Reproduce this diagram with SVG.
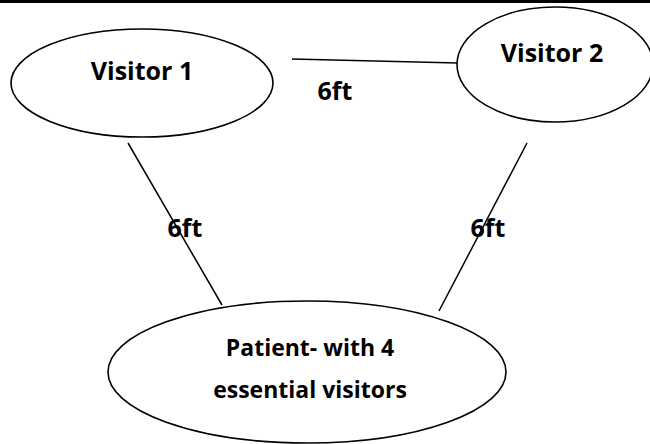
<svg xmlns="http://www.w3.org/2000/svg" width="650" height="444" viewBox="0 0 650 444">
  <style>
    .node { fill: #ffffff; stroke: #000000; stroke-width: 1.6; }
    .edge { stroke: #000000; stroke-width: 1.5; fill: none; }
    .label { font-family: "Open Sans", "Liberation Sans", sans-serif; font-weight: bold; fill: #000000; text-anchor: middle; }
  </style>
  <rect x="0" y="0" width="650" height="444" fill="#ffffff"/>
  <!-- rule along the top edge -->
  <rect x="0" y="0" width="650" height="3" fill="#000000"/>

  <g id="connectors">
    <line class="edge" x1="292" y1="59" x2="458" y2="63"/>
    <line class="edge" x1="128" y1="143" x2="222" y2="305"/>
    <line class="edge" x1="527" y1="143" x2="439" y2="311"/>
  </g>

  <g id="visitor1">
    <ellipse class="node" cx="142" cy="83" rx="131" ry="54"/>
    <text class="label" x="142" y="80" font-size="25">Visitor 1</text>
  </g>

  <g id="visitor2">
    <ellipse class="node" cx="555" cy="64.5" rx="98" ry="57.5"/>
    <text class="label" x="552" y="62" font-size="25">Visitor 2</text>
  </g>

  <g id="patient">
    <ellipse class="node" cx="307" cy="372" rx="199" ry="71"/>
    <text class="label" x="310" y="356" font-size="23">Patient- with 4</text>
    <text class="label" x="310" y="398" font-size="23">essential visitors</text>
  </g>

  <g id="distance-labels">
    <text class="label" x="335" y="100" font-size="25">6ft</text>
    <text class="label" x="185" y="237" font-size="25">6ft</text>
    <text class="label" x="488" y="237" font-size="25">6ft</text>
  </g>
</svg>
